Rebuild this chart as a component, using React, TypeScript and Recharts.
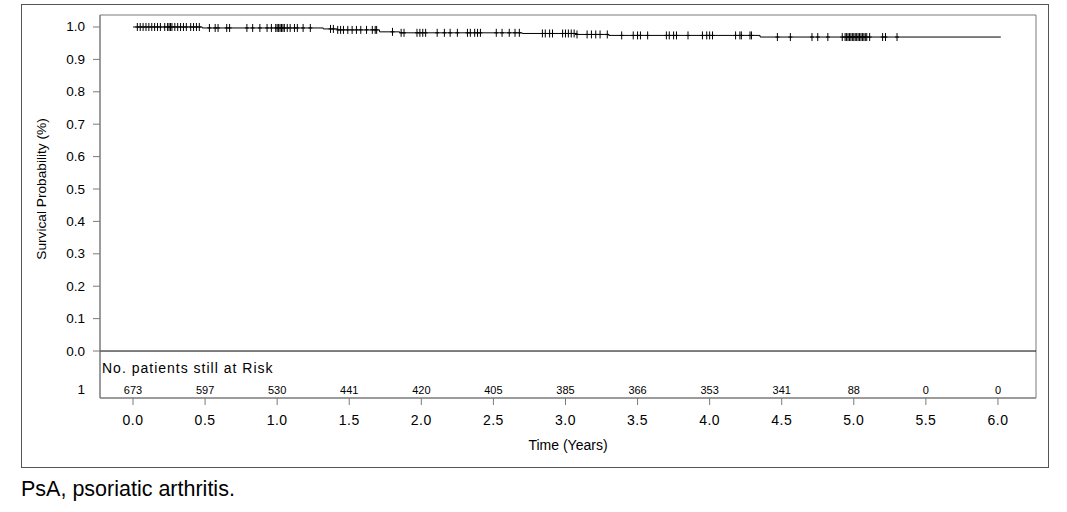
import React from 'react';
import { ComposedChart, Line, Scatter, XAxis, YAxis, ReferenceLine, ReferenceArea } from 'recharts';

// Kaplan-Meier curve: step start times (years) and survival after each step
const stepTimes = [0, 0.48, 1.32, 1.42, 1.71, 1.85, 2.7, 3.08, 3.3, 4.35, 6.02];
const stepSurvival = [1.0, 0.997, 0.994, 0.991, 0.985, 0.982, 0.98, 0.977, 0.974, 0.969, 0.969];

// censored observations (tick marks on the curve)
const censorTimes = [
  0.03, 0.05, 0.07, 0.09, 0.11, 0.13, 0.15, 0.17, 0.19, 0.22, 0.24, 0.25, 0.26, 0.27, 0.29,
  0.31, 0.33, 0.35, 0.37, 0.4, 0.42, 0.44, 0.46, 0.53, 0.57, 0.59, 0.65, 0.67, 0.79, 0.83,
  0.88, 0.93, 0.96, 0.99, 1.0, 1.01, 1.02, 1.03, 1.04, 1.05, 1.07, 1.09, 1.12, 1.14, 1.18,
  1.23, 1.37, 1.39, 1.42, 1.44, 1.46, 1.49, 1.52, 1.55, 1.58, 1.62, 1.66, 1.68, 1.69, 1.8,
  1.86, 1.88, 1.97, 1.99, 2.01, 2.03, 2.11, 2.16, 2.2, 2.25, 2.32, 2.34, 2.37, 2.39, 2.41,
  2.52, 2.56, 2.61, 2.65, 2.68, 2.84, 2.86, 2.89, 2.91, 2.98, 3.0, 3.02, 3.04, 3.06, 3.08,
  3.15, 3.18, 3.21, 3.24, 3.29, 3.39, 3.47, 3.5, 3.52, 3.57, 3.7, 3.72, 3.75, 3.77, 3.85,
  3.95, 3.98, 4.0, 4.02, 4.18, 4.21, 4.22, 4.28, 4.29, 4.47, 4.56, 4.71, 4.75, 4.82, 4.92,
  4.94, 4.95, 4.96, 4.97, 4.98, 4.99, 5.0, 5.01, 5.02, 5.03, 5.04, 5.05, 5.06, 5.07, 5.08,
  5.09, 5.11, 5.2, 5.22, 5.3,
];

// at-risk table
const riskTimes = [0, 0.5, 1.0, 1.5, 2.0, 2.5, 3.0, 3.5, 4.0, 4.5, 5.0, 5.5, 6.0];
const riskCounts = [673, 597, 530, 441, 420, 405, 385, 366, 353, 341, 88, 0, 0];

const yTickValues = [0, 0.1, 0.2, 0.3, 0.4, 0.5, 0.6, 0.7, 0.8, 0.9, 1.0];

const X_MIN = -0.229;
const X_MAX = 6.264;
const Y_MIN = -0.145;
const Y_MAX = 1.037;
const RISK_ROW = -0.12;
const FONT = '"Liberation Sans", Arial, sans-serif';
const GREY = '#7a7a7a';

function survivalAt(t: number) {
  let s = stepSurvival[0];
  for (let i = 0; i < stepTimes.length; i++) {
    if (stepTimes[i] <= t) s = stepSurvival[i];
  }
  return s;
}

const curveData = stepTimes.map((t, i) => ({ t, s: stepSurvival[i] }));
const censorData = censorTimes.map((t) => ({ t, s: survivalAt(t) }));
const riskData = riskTimes.map((t, i) => ({ t, row: RISK_ROW, n: riskCounts[i] }));

const CensorMark = (props: any) => {
  const { cx, cy } = props;
  return (
    <g stroke="#000" strokeWidth={1}>
      <line x1={cx} x2={cx} y1={cy - 4} y2={cy + 4} />
      <line x1={cx - 2} x2={cx + 2} y1={cy} y2={cy} />
    </g>
  );
};

const RiskCount = (props: any) => {
  const { cx, cy, payload } = props;
  return (
    <text x={cx} y={cy} textAnchor="middle" dominantBaseline="central" fontSize={11} fontFamily={FONT} fill="#000">
      {payload.n}
    </text>
  );
};

const YTick = (props: any) => {
  const { x, y, payload } = props;
  const v = payload.value;
  const isRisk = v === RISK_ROW;
  return (
    <g>
      {!isRisk && <line x1={x + 8} x2={x + 15} y1={y} y2={y} stroke={GREY} />}
      <text x={x} y={y} textAnchor="end" dominantBaseline="central" fontSize={13.5} fontFamily={FONT} fill="#000">
        {isRisk ? '1' : v.toFixed(1)}
      </text>
    </g>
  );
};

// y label is centred on the 0..1 probability range, not on the whole box
const YLabel = (props: any) => {
  const { viewBox } = props;
  if (!viewBox) return null;
  const cx = viewBox.x + 12;
  const cy = viewBox.y + (viewBox.height * (Y_MAX - 0.5)) / (Y_MAX - Y_MIN);
  return (
    <text
      x={cx}
      y={cy}
      transform={`rotate(-90, ${cx}, ${cy})`}
      textAnchor="middle"
      dominantBaseline="central"
      fontSize={13.7}
      fontFamily={FONT}
      fill="#000"
    >
      Survical Probability (%)
    </text>
  );
};

const RiskHeader = (props: any) => {
  const { viewBox } = props;
  return (
    <text x={viewBox.x + 2} y={viewBox.y + 22} fontSize={14} letterSpacing={1} fontFamily={FONT} fill="#000">
      No. patients still at Risk
    </text>
  );
};

export default function App() {
  return (
    <div style={{ position: 'absolute', left: 0, top: 0, width: 1067, height: 512, background: '#fff' }}>
      <div
        style={{
          position: 'absolute', left: 21, top: 4, width: 1028, height: 464,
          border: '1px solid #555', boxSizing: 'border-box',
        }}
      />
      <div style={{ position: 'absolute', left: 0, top: 0 }}>
        <ComposedChart width={1067} height={470} margin={{ top: 15, right: 31, bottom: 12, left: 30 }}>
          <XAxis
            dataKey="t"
            type="number"
            domain={[X_MIN, X_MAX]}
            allowDataOverflow
            ticks={riskTimes}
            interval={0}
            tickFormatter={(v: number) => v.toFixed(1)}
            tickSize={7}
            tickMargin={10}
            height={60}
            stroke={GREY}
            tick={{ fill: '#000', fontSize: 14, letterSpacing: 0.5, fontFamily: FONT }}
            label={{ value: 'Time (Years)', position: 'insideBottom', offset: 8, fill: '#000', fontSize: 14, fontFamily: FONT }}
          />
          <YAxis
            type="number"
            domain={[Y_MIN, Y_MAX]}
            allowDataOverflow
            ticks={[RISK_ROW, ...yTickValues]}
            interval={0}
            width={70}
            tickSize={7}
            tickMargin={8}
            tickLine={false}
            stroke={GREY}
            tick={<YTick />}
            label={<YLabel />}
          />
          <ReferenceArea x1={X_MIN} x2={X_MAX} y1={Y_MIN} y2={Y_MAX} fill="none" stroke={GREY} ifOverflow="visible" />
          <ReferenceLine y={0} stroke="#000" label={<RiskHeader />} />
          <Line
            data={curveData}
            dataKey="s"
            type="stepAfter"
            stroke="#000"
            strokeWidth={1}
            dot={false}
            isAnimationActive={false}
          />
          <Scatter data={censorData} dataKey="s" shape={<CensorMark />} isAnimationActive={false} />
          <Scatter data={riskData} dataKey="row" shape={<RiskCount />} isAnimationActive={false} />
        </ComposedChart>
      </div>
      <div
        style={{
          position: 'absolute', left: 21, top: 477, fontSize: 21.5,
          fontFamily: 'Arial, "Liberation Sans", sans-serif', color: '#000',
        }}
      >
        PsA, psoriatic arthritis.
      </div>
    </div>
  );
}
